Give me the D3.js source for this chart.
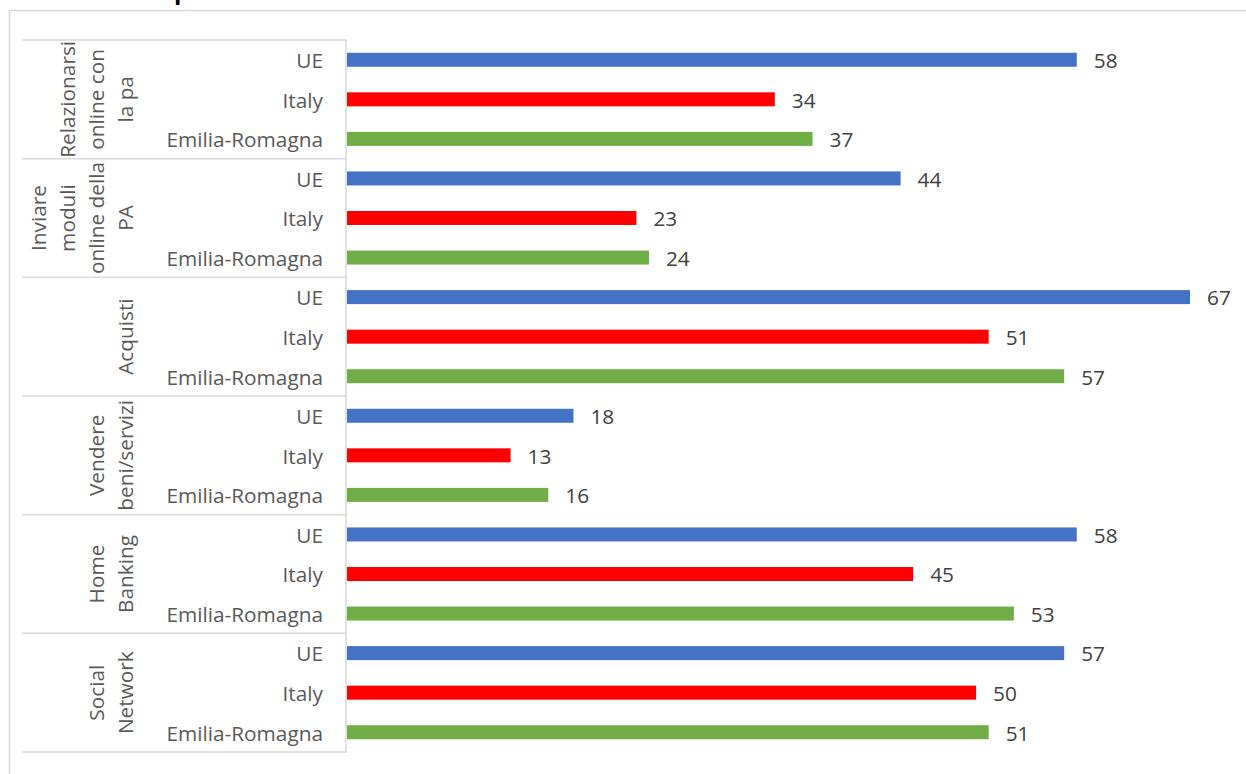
<!DOCTYPE html>
<html>
<head>
<meta charset="utf-8">
<script src="https://cdn.jsdelivr.net/npm/d3@7"></script>
<style>
  html, body { margin: 0; padding: 0; background: #fff; }
  svg { display: block; font-family: "Open Sans", sans-serif; }
</style>
</head>
<body>
<svg id="chart" width="1246" height="774"></svg>
<script>
// ---- Data ----
const groups = [
  ["Relazionarsi", "online con", "la pa"],
  ["Inviare", "moduli", "online della", "PA"],
  ["Acquisti"],
  ["Vendere", "beni/servizi"],
  ["Home", "Banking"],
  ["Social", "Network"]
];
const seriesNames = ["UE", "Italy", "Emilia-Romagna"];
const ueValues    = [58, 44, 67, 18, 58, 57];
const italyValues = [34, 23, 51, 13, 45, 50];
const erValues    = [37, 24, 57, 16, 53, 51];
const seriesColors = ["#4472C4", "#FF0000", "#70AD47"];

(function () {
const seriesValues = [ueValues, italyValues, erValues];
const groupIds = groups.map((g, i) => i);

// ---- Layout ----
const svg = d3.select("#chart");
const axisX = 347, plotTop = 40, plotBottom = 752, leftEdge = 22;
const fs = 20.8;

const x = d3.scaleLinear().domain([0, 67]).range([axisX, 1190]);
const yGroup = d3.scaleBand().domain(groupIds).range([plotTop, plotBottom]).padding(0);
const ySeries = d3.scaleBand().domain(seriesNames).range([0, yGroup.bandwidth()]).padding(0);
const barH = 14;

// outer chart border
svg.append("rect")
  .attr("x", 9.5).attr("y", 10.5).attr("width", 1400).attr("height", 900)
  .attr("fill", "none").attr("stroke", "#d9d9d9").attr("stroke-width", 1.5);

// partially visible title (cut off at the top, as in the reference)
svg.append("text")
  .attr("x", 174).attr("y", -1)
  .attr("font-size", 24).attr("font-weight", "bold").attr("fill", "#000")
  .text("p");

// separators
const sepYs = groupIds.map(i => yGroup(i)).concat([yGroup(groupIds.length - 1) + yGroup.bandwidth()]);
svg.append("g").selectAll("line").data(sepYs).join("line")
  .attr("x1", leftEdge).attr("x2", axisX)
  .attr("y1", d => d).attr("y2", d => d)
  .attr("stroke", "#d9d9d9").attr("stroke-width", 1.5);

svg.append("line")
  .attr("x1", axisX - 1).attr("x2", axisX - 1)
  .attr("y1", plotTop).attr("y2", plotBottom)
  .attr("stroke", "#d9d9d9").attr("stroke-width", 1.5);

// bars & labels
const rows = [];
groupIds.forEach(gi => {
  seriesNames.forEach((s, si) => {
    rows.push({ gi, s, si, v: seriesValues[si][gi] });
  });
});

const cy = d => yGroup(d.gi) + ySeries(d.s) + ySeries.bandwidth() / 2;

svg.append("g").selectAll("rect").data(rows).join("rect")
  .attr("x", x(0))
  .attr("y", d => cy(d) - barH / 2)
  .attr("width", d => x(d.v) - x(0))
  .attr("height", barH)
  .attr("fill", d => seriesColors[d.si]);

svg.append("g").selectAll("text").data(rows).join("text")
  .attr("x", d => x(d.v) + 17)
  .attr("y", d => cy(d) + 1)
  .attr("dy", "0.35em")
  .attr("font-size", fs)
  .attr("fill", "#404040")
  .text(d => d.v);

// series category labels
svg.append("g").selectAll("text").data(rows).join("text")
  .attr("x", axisX - 24)
  .attr("y", d => cy(d) + 1)
  .attr("dy", "0.35em")
  .attr("text-anchor", "end")
  .attr("font-size", fs)
  .attr("fill", "#595959")
  .text(d => d.s);

// group labels (rotated)
const lastBaseline = 133, lineGap = 29;
groupIds.forEach(gi => {
  const lines = groups[gi];
  const cyG = yGroup(gi) + yGroup.bandwidth() / 2;
  lines.forEach((ln, li) => {
    const bx = lastBaseline - (lines.length - 1 - li) * lineGap;
    svg.append("text")
      .attr("transform", `translate(${bx},${cyG}) rotate(-90)`)
      .attr("text-anchor", "middle")
      .attr("font-size", fs)
      .attr("fill", "#595959")
      .text(ln);
  });
});
})();
</script>
</body>
</html>
